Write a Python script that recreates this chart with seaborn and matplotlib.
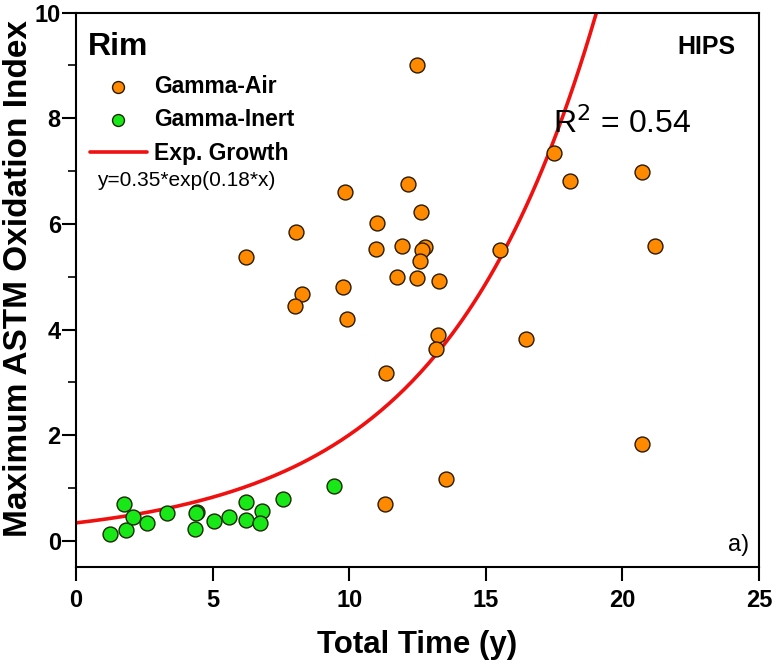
import numpy as np
import pandas as pd
import matplotlib
matplotlib.use('Agg')
import matplotlib.pyplot as plt
from matplotlib.ticker import MultipleLocator
import seaborn as sns

# Rim oxidation of HIPS samples: gamma sterilised in air vs. inert gas.
air_time = [12.48, 17.49, 18.10, 20.72, 21.20, 12.14, 12.64, 11.94, 12.79, 12.65,
            12.59, 11.75, 12.49, 13.28, 15.51, 9.86, 8.06, 11.00, 6.23, 10.97,
            8.29, 8.00, 9.76, 9.93, 13.24, 13.16, 16.46, 11.33, 13.55, 20.73, 11.32]
air_oi = [9.00, 7.35, 6.81, 6.98, 5.59, 6.76, 6.23, 5.59, 5.56, 5.50,
          5.29, 4.99, 4.97, 4.92, 5.50, 6.60, 5.84, 6.01, 5.37, 5.52,
          4.67, 4.44, 4.80, 4.20, 3.89, 3.64, 3.83, 3.18, 1.17, 1.83, 0.69]

inert_time = [1.23, 1.76, 1.83, 2.10, 2.60, 3.34, 4.42, 4.38, 4.34, 5.05,
              5.59, 6.24, 6.22, 6.79, 6.75, 7.59, 9.46]
inert_oi = [0.12, 0.70, 0.21, 0.45, 0.33, 0.53, 0.55, 0.52, 0.22, 0.38,
            0.46, 0.73, 0.39, 0.56, 0.33, 0.80, 1.03]

# exponential growth fit y = a*exp(b*x) (as drawn)
fit_a = 0.34
fit_b = 0.1775

air = pd.DataFrame({'time': air_time, 'oi': air_oi})
inert = pd.DataFrame({'time': inert_time, 'oi': inert_oi})
fit_x = np.linspace(0, 19.3, 200)
fit = pd.DataFrame({'time': fit_x, 'oi': fit_a * np.exp(fit_b * fit_x)})

sns.set_style('white')
plt.rcParams['font.family'] = ['Liberation Sans', 'DejaVu Sans']
plt.rcParams['text.color'] = 'black'
plt.rcParams['axes.labelcolor'] = 'black'
plt.rcParams['xtick.color'] = 'black'
plt.rcParams['ytick.color'] = 'black'

fig = plt.figure(figsize=(7.76, 6.65), dpi=100)
ax = fig.add_axes([0.098, 0.147, 0.880, 0.834])

sns.scatterplot(data=air, x='time', y='oi', ax=ax, s=115, color='#ff8a00',
                edgecolor='#2a1a00', linewidth=1.0, label='Gamma-Air', zorder=3)
sns.scatterplot(data=inert, x='time', y='oi', ax=ax, s=115, color='#18e818',
                edgecolor='#1a2a00', linewidth=1.0, label='Gamma-Inert', zorder=3)
sns.lineplot(data=fit, x='time', y='oi', ax=ax, color='#f01010', linewidth=2.6,
             label='Exp. Growth', zorder=2)

ax.set_xlim(0, 25)
ax.set_ylim(-0.5, 10)
ax.xaxis.set_major_locator(MultipleLocator(5))
ax.yaxis.set_major_locator(MultipleLocator(2))
ax.yaxis.set_minor_locator(MultipleLocator(1))
ax.tick_params(axis='both', which='major', direction='out', length=10, width=1.5,
               labelsize=17, bottom=True, left=True, colors='black')
ax.tick_params(axis='x', which='major', pad=6)
ax.tick_params(axis='y', which='major', pad=1)
ax.tick_params(axis='y', which='minor', direction='out', length=5.5, width=1.2, left=True)
for lab in ax.get_xticklabels() + ax.get_yticklabels():
    lab.set_fontweight('bold')
for sp in ax.spines.values():
    sp.set_color('black')
    sp.set_linewidth(1.5)

ax.set_xlabel('Total Time (y)', fontsize=22.5, fontweight='bold')
ax.xaxis.set_label_coords(0.5, -0.113)
ax.set_ylabel('Maximum ASTM Oxidation Index', fontsize=24, fontweight='bold')
ax.yaxis.set_label_coords(-0.062, 0.52)

leg = ax.legend(loc='upper left', bbox_to_anchor=(-0.01, 0.924), frameon=False,
                prop={'size': 16.5, 'weight': 'bold'}, handlelength=2.5,
                handletextpad=0.3, labelspacing=0.44, markerscale=0.8)

ax.text(0.017, 0.965, 'Rim', transform=ax.transAxes, fontsize=23,
        fontweight='bold', va='top')
ax.text(0.965, 0.96, 'HIPS', transform=ax.transAxes, fontsize=18,
        fontweight='bold', va='top', ha='right')
ax.text(0.03, 0.697, 'y=0.35*exp(0.18*x)', transform=ax.transAxes, fontsize=15,
        va='center')
ax.text(0.698, 0.80, 'R$^2$ = 0.54', transform=ax.transAxes, fontsize=23,
        va='center')
ax.text(0.985, 0.02, 'a)', transform=ax.transAxes, fontsize=17,
        va='bottom', ha='right')

fig.savefig('out.png', dpi=100)
